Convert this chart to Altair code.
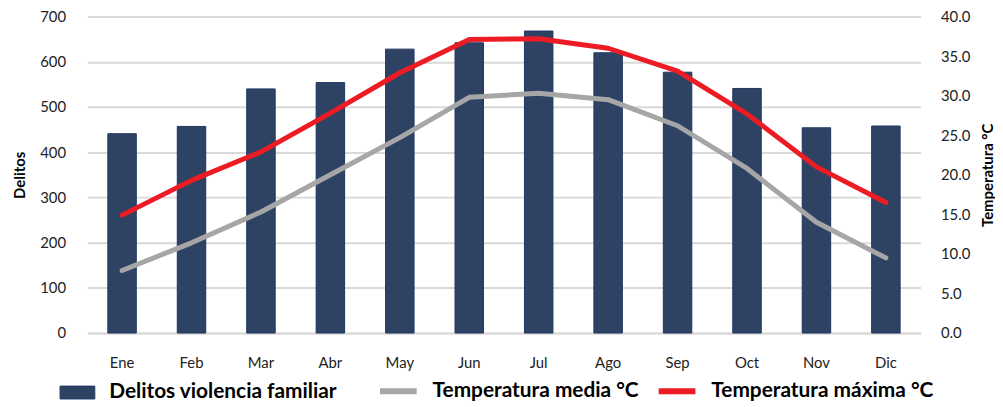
import altair as alt
import pandas as pd

meses = ["Ene", "Feb", "Mar", "Abr", "May", "Jun", "Jul", "Ago", "Sep", "Oct", "Nov", "Dic"]
delitos = [441, 457, 540, 554, 628, 642, 668, 620, 577, 541, 454, 458]
temp_media = [7.9, 11.4, 15.3, 20.0, 24.7, 29.8, 30.3, 29.5, 26.2, 20.8, 14.0, 9.5]
temp_max = [14.9, 19.3, 22.9, 27.8, 32.9, 37.1, 37.2, 36.0, 33.1, 27.7, 21.0, 16.5]

serie_bar = "Delitos violencia familiar"
serie_media = "Temperatura media °C"
serie_max = "Temperatura máxima °C"

bars_df = pd.DataFrame({"mes": meses, "valor": delitos, "serie": serie_bar})
lines_df = pd.concat([
    pd.DataFrame({"mes": meses, "temp": temp_media, "serie": serie_media, "orden": 0}),
    pd.DataFrame({"mes": meses, "temp": temp_max, "serie": serie_max, "orden": 1}),
])

FONT = "Lato"

x_enc = alt.X("mes:N", sort=meses, title=None,
              scale=alt.Scale(paddingInner=0.59, paddingOuter=0.295),
              axis=alt.Axis(labelAngle=0, labelFontSize=15, labelColor="#222222",
                            labelPadding=23, ticks=False, domain=True,
                            domainColor="#D9D9D9", domainWidth=2, grid=False))

bars = alt.Chart(bars_df).mark_bar(stroke="#1F3560", strokeWidth=1).encode(
    x=x_enc,
    y=alt.Y("valor:Q", title="Delitos",
            scale=alt.Scale(domain=[0, 700], nice=False),
            axis=alt.Axis(values=[0, 100, 200, 300, 400, 500, 600, 700], orient="left",
                          labelFontSize=15, labelColor="#222222", labelPadding=22,
                          ticks=False, domain=False, grid=True,
                          gridColor="#D9D9D9", gridWidth=2,
                          titleFontSize=15, titleFontWeight="bold", titleColor="#000000",
                          titlePadding=12)),
    fill=alt.Fill("serie:N",
                  scale=alt.Scale(domain=[serie_bar], range=["#2E4364"]),
                  legend=alt.Legend(title=None, orient="none", legendX=-28, legendY=361,
                                    symbolType="M-1,-0.37L1,-0.37L1,0.37L-1,0.37Z",
                                    symbolSize=1225, symbolStrokeColor="#1F3560",
                                    symbolStrokeWidth=1, labelFontSize=21,
                                    labelFontWeight="bold", labelColor="#000000",
                                    labelOffset=14, labelLimit=400)),
)

lines = alt.Chart(lines_df).mark_line(strokeWidth=5, strokeJoin="round", strokeCap="round").encode(
    x=alt.X("mes:N", sort=meses),
    y=alt.Y("temp:Q", title="Temperatura °C",
            scale=alt.Scale(domain=[0, 40], nice=False),
            axis=alt.Axis(values=[0, 5, 10, 15, 20, 25, 30, 35, 40], format=".1f",
                          orient="right", labelFontSize=15, labelColor="#222222",
                          labelPadding=20, ticks=False, domain=False, grid=False,
                          titleFontSize=15, titleFontWeight="bold", titleColor="#000000",
                          titleAngle=270, titlePadding=26)),
    color=alt.Color("serie:N",
                    scale=alt.Scale(domain=[serie_media, serie_max],
                                    range=["#A6A6A6", "#ED1C24"]),
                    legend=alt.Legend(title=None, orient="none", legendX=292, legendY=356,
                                      direction="horizontal", symbolType="stroke",
                                      symbolSize=1369, symbolStrokeWidth=6,
                                      labelFontSize=21, labelFontWeight="bold",
                                      labelColor="#000000", labelOffset=13,
                                      columnPadding=8, labelLimit=400)),
    order="orden:Q",
)

chart = alt.layer(bars, lines).resolve_scale(y="independent").properties(
    width=840, height=319,
    autosize=alt.AutoSizeParams(type="none"),
    padding={"left": 80, "top": 7, "right": 75, "bottom": 84},
).configure(font=FONT).configure_view(stroke=None)

chart.save("out.html", embed_options={"renderer": "svg", "actions": False})
